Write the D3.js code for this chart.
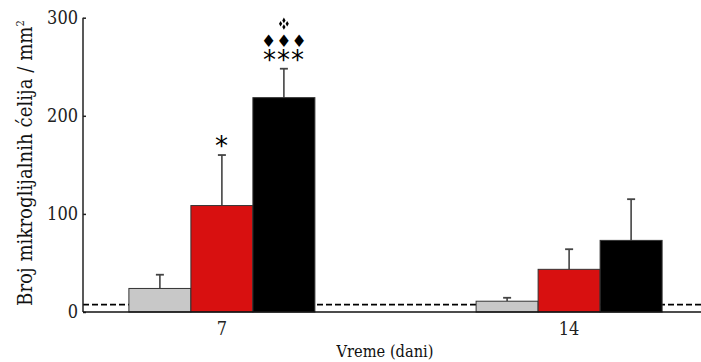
<!DOCTYPE html>
<html>
<head>
<meta charset="utf-8">
<script src="https://cdn.jsdelivr.net/npm/d3@7"></script>
<style>
body{margin:0;background:#fff;}
</style>
</head>
<body>
<div id="chart-area"></div>
<script>
var days=["7","14"];
var series=["kontrola","grupa A","grupa B"];
var colors=["#c8c8c8","#d81010","#000000"];
var means=[[24,108.5,218.5],[11,43.5,73]];
var errTop=[[38,160,248],[14.5,64,115]];
var yTicks=[0,100,200,300];
var baseline=7.5;
// significance marks: group index, series index, text rows (bottom to top), extra dingbat on top
var marks=[
  {g:0,s:1,rows:["*"],dingbat:false},
  {g:0,s:2,rows:["***","\u2666\u2666\u2666"],dingbat:true}
];

var serif="DejaVu Serif, serif";
var serifCond="DejaVu Serif Condensed, DejaVu Serif, serif";
var width=701, height=362;
var margin={left:83,right:0,top:17.7,bottom:50};

var svg=d3.select("#chart-area").append("svg")
    .attr("width",width)
    .attr("height",height);

// shrink/grow a text to a given length
function fit(sel,target){
    var fs=parseFloat(sel.attr("font-size"));
    var len=sel.node().getComputedTextLength();
    sel.attr("font-size",(fs*target/len).toFixed(2)+"px");
}

var x0=d3.scalePoint()
    .domain(days)
    .range([margin.left,708])
    .padding(0.4);

var x1=d3.scaleBand()
    .domain(series)
    .range([-93,93]);

var y=d3.scaleLinear()
    .domain([0,300])
    .range([height-margin.bottom,margin.top]);

svg.append("line")
    .attr("x1",margin.left)
    .attr("x2",width)
    .attr("y1",y(baseline))
    .attr("y2",y(baseline))
    .attr("stroke","#000")
    .attr("stroke-width",1.8)
    .attr("stroke-dasharray","6,3");

var groups=svg.selectAll(".grp")
    .data(days)
    .enter().append("g")
    .attr("class","grp")
    .attr("transform",(d)=>{return "translate("+x0(d)+",0)";});

groups.each(function(d,gi){
    var g=d3.select(this);
    var rows=series.map((s,si)=>{return {s:s,si:si,v:means[gi][si],e:errTop[gi][si]};});
    g.selectAll("line.err").data(rows).enter().append("line")
        .attr("x1",(r)=>{return x1(r.s)+x1.bandwidth()/2;})
        .attr("x2",(r)=>{return x1(r.s)+x1.bandwidth()/2;})
        .attr("y1",(r)=>{return y(r.v);})
        .attr("y2",(r)=>{return y(r.e);})
        .attr("stroke","#444").attr("stroke-width",1.6);
    g.selectAll("line.cap").data(rows).enter().append("line")
        .attr("x1",(r)=>{return x1(r.s)+x1.bandwidth()/2-4;})
        .attr("x2",(r)=>{return x1(r.s)+x1.bandwidth()/2+4;})
        .attr("y1",(r)=>{return y(r.e);})
        .attr("y2",(r)=>{return y(r.e);})
        .attr("stroke","#444").attr("stroke-width",1.8);
    g.selectAll("rect").data(rows).enter().append("rect")
        .attr("x",(r)=>{return x1(r.s);})
        .attr("y",(r)=>{return y(r.v);})
        .attr("width",x1.bandwidth())
        .attr("height",(r)=>{return y(0)-y(r.v);})
        .attr("fill",(r)=>{return colors[r.si];})
        .attr("stroke","#333").attr("stroke-width",1);
});

// significance symbols
marks.forEach((m)=>{
    var cx=x0(days[m.g])+x1(series[m.s])+x1.bandwidth()/2;
    var top=y(errTop[m.g][m.s]);
    var t=svg.append("text")
        .attr("text-anchor","middle")
        .attr("font-family","DejaVu Sans, sans-serif")
        .attr("fill","#000");
    m.rows.forEach((txt,i)=>{
        var star=txt.indexOf("*")>=0;
        var cy=top-11-i*17;
        t.append("tspan")
            .attr("x",cx)
            .attr("y",cy+(star?11:6))
            .attr("font-size",star?"26px":"17px")
            .attr("letter-spacing",star?"1px":"0px")
            .text(txt);
    });
    if(m.dingbat){
        var cy=top-11-m.rows.length*17;
        var sym=d3.symbol().type(d3.symbolDiamond).size(9);
        [[0,-3.3],[0,3.3],[-3.3,0],[3.3,0]].forEach((o)=>{
            svg.append("path").attr("d",sym())
                .attr("transform","translate("+(cx+o[0])+","+(cy+o[1])+")")
                .attr("fill","#000");
        });
    }
});

var leftAxis=d3.axisLeft(y)
    .tickValues(yTicks)
    .tickSize(-3)
    .tickPadding(5);

var ya=svg.append("g")
    .attr("transform","translate("+margin.left+",0)")
    .call(leftAxis);
ya.select(".domain").attr("stroke","#222").attr("stroke-width",1.5).attr("d","M0,"+y(300)+"V"+y(0));
ya.selectAll(".tick line").attr("stroke","#222").attr("stroke-width",1.5);
ya.selectAll("text")
    .attr("font-family",serifCond)
    .attr("font-size","18px")
    .attr("fill","#222");

svg.append("line")
    .attr("x1",margin.left).attr("x2",width)
    .attr("y1",y(0)).attr("y2",y(0))
    .attr("stroke","#111").attr("stroke-width",1.5);

svg.selectAll(".xlab")
    .data(days)
    .enter().append("text")
    .attr("class","xlab")
    .attr("x",(d)=>{return x0(d);})
    .attr("y",y(0)+23)
    .attr("text-anchor","middle")
    .attr("font-family",serifCond)
    .attr("font-size","18px")
    .attr("fill","#222")
    .text((d)=>{return d;});

var xt=svg.append("text")
    .attr("x",385)
    .attr("y",357)
    .attr("text-anchor","middle")
    .attr("font-family",serifCond)
    .attr("font-size","17px")
    .attr("fill","#111")
    .text("Vreme (dani)");
fit(xt,97);

var yl=svg.append("text")
    .attr("transform","translate(32,163) rotate(-90)")
    .attr("text-anchor","middle")
    .attr("font-family",serifCond)
    .attr("font-size","18px")
    .attr("fill","#111");
yl.append("tspan").text("Broj mikroglijalnih ćelija / mm");
yl.append("tspan").attr("font-size","0.55em").attr("dy","-0.75em").text("2");
fit(yl,286);
</script>
</body>
</html>
